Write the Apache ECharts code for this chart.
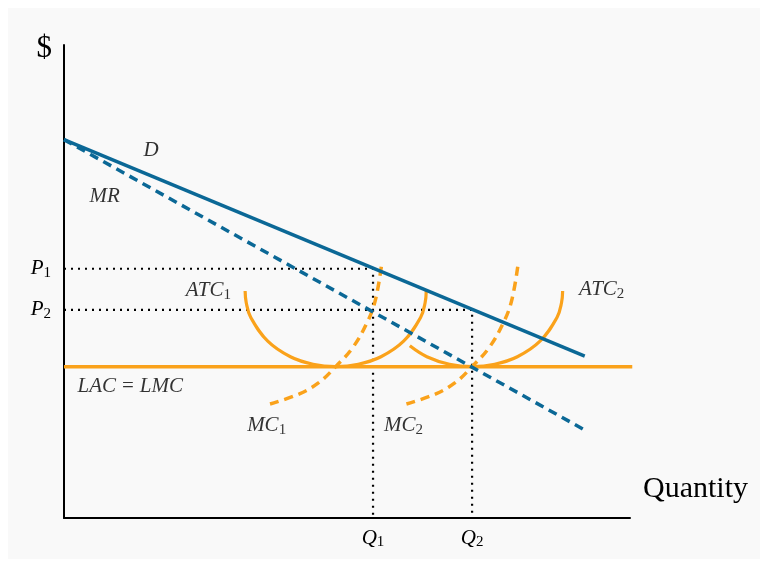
<!DOCTYPE html>
<html>
<head>
<meta charset="utf-8">
<script src="https://cdn.jsdelivr.net/npm/echarts@6/dist/echarts.min.js"></script>
<style>
  html, body { margin: 0; padding: 0; background: #fff; }
  .panel { position: absolute; left: 8px; top: 8px; width: 752px; height: 551px; background: #f9f9f9; }
  #main { position: absolute; left: 0; top: 0; width: 767px; height: 566px; }
</style>
</head>
<body>
<div class="panel"></div>
<div id="main"></div>
<script>
  // 需求与边际收益（直线，两端点）
  const demand = [[0, 8], [9.2, 3.42]]
  const marginalRevenue = [[0, 8], [9.2, 1.86]]
  const lacLmc = [[0, 3.2], [10.04, 3.2]]
  // 短期平均成本（U 形）
  const atc1 = [[3.2, 4.8], [3.22, 4.55], [3.3, 4.24], [3.6, 3.74], [4.0, 3.41], [4.4, 3.25], [4.8, 3.2], [5.2, 3.25], [5.6, 3.41], [6.0, 3.74], [6.3, 4.24], [6.38, 4.55], [6.4, 4.8]]
  const atc2 = [[6.11, 3.64], [6.41, 3.41], [6.81, 3.25], [7.21, 3.2], [7.61, 3.25], [8.01, 3.41], [8.41, 3.74], [8.71, 4.24], [8.79, 4.55], [8.81, 4.8]]
  // 短期边际成本
  const mc1 = [[3.64, 2.41], [4.15, 2.62], [4.5, 2.86], [4.8, 3.2], [5.1, 3.6], [5.35, 4.12], [5.5, 4.6], [5.62, 5.43]]
  const mc2 = [[6.05, 2.41], [6.56, 2.62], [6.91, 2.86], [7.21, 3.2], [7.51, 3.6], [7.76, 4.12], [7.91, 4.6], [8.03, 5.43]]
  // P1, P2 / Q1, Q2
  const priceLevels = [5.27, 4.4]
  const priceNames = ['{i|P}{s|1}', '{i|P}{s|2}']
  const quantityLevels = [5.46, 7.21]
  const quantityNames = ['{i|Q}{s|1}', '{i|Q}{s|2}']
  // 曲线标注
  const labelTexts = ['{i|D}', '{i|MR}', '{i|ATC}{s|1}', '{i|ATC}{s|2}', '{i|LAC}{r|=}{i|LMC}', '{i|MC}{s|1}', '{i|MC}{s|2}']
  const labelX = [1.54, 0.72, 2.55, 9.5, 1.17, 3.58, 6.0]
  const labelY = [7.78, 6.8, 4.81, 4.84, 2.78, 1.96, 1.96]

  const blue = '#0b6896'
  const orange = '#faa21b'
  const serif = 'Liberation Serif'
  const rich = {
    i: { fontFamily: serif, fontStyle: 'italic', fontSize: 21, lineHeight: 24, color: '#000' },
    r: { fontFamily: serif, fontSize: 21, lineHeight: 24, color: '#000', padding: [0, 6, 0, 6] },
    s: { fontFamily: serif, fontSize: 15, lineHeight: 11, verticalAlign: 'bottom', color: '#000' }
  }

  const pick = (levels, names, v) => {
    for (let k = 0; k < levels.length; k++) {
      if (Math.abs(levels[k] - v) < 1e-6) return names[k]
    }
    return ''
  }

  const dotted = (p, q) => ({
    type: 'line',
    data: [[0, p], [q, p], [q, 0]],
    symbol: 'none',
    silent: true,
    z: 1,
    lineStyle: { color: '#000', width: 2.2, type: [2, 5], cap: 'butt' }
  })

  const curve = (data, color, width, dashed, smooth, z) => ({
    type: 'line',
    data,
    symbol: 'none',
    smooth,
    silent: true,
    z,
    lineStyle: { color, width, type: dashed ? [9, 6] : 'solid', cap: 'butt' }
  })

  const chart = echarts.init(document.getElementById('main'))
  chart.setOption({
    animation: false,
    grid: { left: 64, right: 137, top: 45, bottom: 48 },
    xAxis: {
      type: 'value',
      min: 0,
      max: 10,
      name: 'Quantity',
      nameLocation: 'end',
      nameGap: 13,
      nameTextStyle: {
        fontFamily: serif,
        fontSize: 30,
        lineHeight: 30,
        color: '#000',
        align: 'left',
        verticalAlign: 'bottom',
        padding: [0, 0, 14, 0]
      },
      axisLine: { lineStyle: { color: '#000', width: 2 } },
      axisTick: { show: false },
      splitLine: { show: false },
      axisLabel: {
        customValues: quantityLevels,
        margin: 8,
        color: '#000',
        formatter: (v) => pick(quantityLevels, quantityNames, v),
        rich
      }
    },
    yAxis: {
      type: 'value',
      min: 0,
      max: 10,
      name: '$',
      nameLocation: 'end',
      nameGap: -4,
      nameTextStyle: {
        fontFamily: serif,
        fontSize: 31,
        color: '#000',
        align: 'right',
        verticalAlign: 'middle',
        padding: [0, 12, 0, 0]
      },
      axisLine: { show: true, lineStyle: { color: '#000', width: 2 } },
      axisTick: { show: false },
      splitLine: { show: false },
      axisLabel: {
        customValues: priceLevels,
        margin: 13,
        color: '#000',
        formatter: (v) => pick(priceLevels, priceNames, v),
        rich
      }
    },
    series: [
      dotted(priceLevels[0], quantityLevels[0]),
      dotted(priceLevels[1], quantityLevels[1]),
      curve(lacLmc, orange, 3.5, false, false, 3),
      curve(atc1, orange, 3.2, false, 0.4, 3),
      curve(atc2, orange, 3.2, false, 0.4, 3),
      curve(mc1, orange, 3.5, true, 0.4, 3),
      curve(mc2, orange, 3.5, true, 0.4, 3),
      curve(marginalRevenue, blue, 3.5, true, false, 4),
      curve(demand, blue, 3.5, false, false, 5),
      {
        type: 'scatter',
        symbolSize: 0,
        silent: true,
        z: 6,
        data: labelTexts.map((t, k) => ({ value: [labelX[k], labelY[k]], name: t })),
        label: {
          show: true,
          position: 'inside',
          color: '#000',
          textBorderWidth: 0,
          formatter: (p) => p.name,
          rich
        }
      }
    ]
  })
</script>
</body>
</html>
